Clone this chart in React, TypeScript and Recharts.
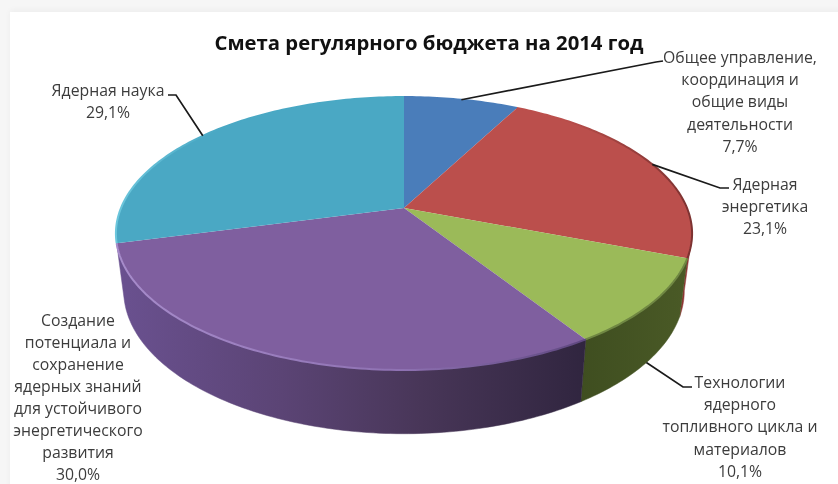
import { PieChart, Pie } from 'recharts';

const categories = [
  'Общее управление, координация и общие виды деятельности',
  'Ядерная энергетика',
  'Технологии ядерного топливного цикла и материалов',
  'Создание потенциала и сохранение ядерных знаний для устойчивого энергетического развития',
  'Ядерная наука',
];
const values = [7.7, 23.1, 10.1, 30.0, 29.1];

const labelLines = [
  ['Общее управление,', 'координация и', 'общие виды', 'деятельности'],
  ['Ядерная', 'энергетика'],
  ['Технологии', 'ядерного', 'топливного цикла и', 'материалов'],
  ['Создание', 'потенциала и', 'сохранение', 'ядерных знаний', 'для устойчивого', 'энергетического', 'развития'],
  ['Ядерная наука'],
];

// label block position (centre x, middle of first line) and leader end
const labelPos = [
  { x: 740, y: 57, step: 22.4, elbow: [656, 62], end: [663, 61], wall: false },
  { x: 765, y: 184, step: 22.4, elbow: [720, 188], end: [729, 188], wall: false },
  { x: 740, y: 382, step: 22.4, elbow: [683, 387], end: [692, 387], wall: true },
  { x: 78, y: 320, step: 22, elbow: null, end: null, wall: false },
  { x: 108, y: 90, step: 22.4, elbow: [176, 95], end: [168, 95], wall: false },
];

const topColors = ['#4a7dba', '#bb4f4c', '#9bba59', '#7f5f9f', '#4aa8c4'];
const rimColors = ['#4a7dba', 'url(#rimRed)', '#6f8743', 'url(#rimPurple)', 'url(#rimCyan)'];
const wallColors = ['#2c4b70', '#8e3533', 'url(#wallGreen)', 'url(#wallPurple)', '#2f7f99'];

const data = categories.map((name, i) => ({ name, value: values[i] }));

// perspective of the tilted disc
const K = 0.187;
const TOP_RY = 0.4654;
const BOTTOM_RX = 0.973;
const BOTTOM_RY = 0.4876;
const DEPTH = 56;
const WALL_FROM = 100.8;
const WALL_TO = 259.2;
const MIN_WALL = 5; // degrees, thinner slivers are hidden by the neighbour in the original

const project = (deg: number, cx: number, cy: number, rx: number, ry: number) => {
  const t = (deg * Math.PI) / 180;
  const d = 1 + K * Math.cos(t);
  return [cx + (rx * Math.sin(t)) / d, cy - (ry * Math.cos(t)) / d];
};

const arc = (from: number, to: number, cx: number, cy: number, rx: number, ry: number) => {
  const pts = [];
  const n = Math.max(2, Math.ceil(Math.abs(to - from)));
  for (let i = 0; i <= n; i++) {
    pts.push(project(from + ((to - from) * i) / n, cx, cy, rx, ry));
  }
  return pts;
};

const toPath = (pts: number[][], close = true) =>
  pts.map((p, i) => `${i ? 'L' : 'M'}${p[0].toFixed(2)} ${p[1].toFixed(2)}`).join('') + (close ? 'Z' : '');

const Slice3D = (props: any) => {
  const { cx, cy, outerRadius, startAngle, endAngle, index } = props;
  const from = 90 - startAngle;
  const to = 90 - endAngle;
  const ry = outerRadius * TOP_RY;
  const top = arc(from, to, cx, cy, outerRadius, ry);
  const wFrom = Math.max(from, WALL_FROM);
  const wTo = Math.min(to, WALL_TO);
  let wall = null;
  if (wTo - wFrom > MIN_WALL) {
    const upper = arc(wFrom, wTo, cx, cy, outerRadius, ry);
    const lower = arc(wFrom, wTo, cx, cy + DEPTH, outerRadius * BOTTOM_RX, outerRadius * BOTTOM_RY);
    wall = <path d={toPath([...upper, ...lower.reverse()])} fill={wallColors[index]} stroke={wallColors[index]} strokeWidth={0.5} />;
  }
  return (
    <g>
      {wall}
      <path d={toPath([[cx, cy], ...top])} fill={topColors[index]} />
      <path d={toPath(top, false)} fill="none" stroke={rimColors[index]} strokeWidth={2} filter="url(#soft)" />
    </g>
  );
};

const renderLabel = (props: any) => {
  const { cx, cy, outerRadius, midAngle, index } = props;
  const pos = labelPos[index];
  const deg = 90 - midAngle;
  const start = pos.wall
    ? project(deg, cx, cy + DEPTH, outerRadius * BOTTOM_RX, outerRadius * BOTTOM_RY)
    : project(deg, cx, cy, outerRadius, outerRadius * TOP_RY);
  const lines = [...labelLines[index], `${values[index].toFixed(1).replace('.', ',')}%`];
  return (
    <g key={index}>
      {pos.elbow && (
        <path d={toPath([start, pos.elbow, pos.end], false)} fill="none" stroke="#1a1a1a" strokeWidth={1.7} />
      )}
      <text textAnchor="middle" fontFamily="'Open Sans', sans-serif" fontSize={15.8} fill="#3c3c3c">
        {lines.map((line, i) => (
          <tspan key={i} x={pos.x} y={pos.y + i * pos.step} dy="0.36em">
            {line}
          </tspan>
        ))}
      </text>
    </g>
  );
};

export default function App() {
  return (
    <div style={{ position: 'fixed', left: 0, top: 0, width: 838, height: 484, background: '#f6f6f6', overflow: 'hidden' }}>
      <div style={{ position: 'absolute', left: 10, top: 12, width: 840, height: 490, background: '#fff', boxShadow: '0 -2px 6px rgba(0,0,0,0.04)' }} />
      <div style={{ position: 'absolute', left: 0, top: 0, filter: 'blur(0.35px)' }}>
        <PieChart width={838} height={484} margin={{ top: 0, right: 0, bottom: 0, left: 0 }}>
          <defs>
            <filter id="soft" filterUnits="userSpaceOnUse" x="0" y="0" width="838" height="484">
              <feGaussianBlur stdDeviation="0.7" />
            </filter>
            <linearGradient id="wallPurple" gradientUnits="userSpaceOnUse" x1="116" y1="0" x2="586" y2="0">
              <stop offset="0" stopColor="#6a5190" />
              <stop offset="0.35" stopColor="#5b4475" />
              <stop offset="0.65" stopColor="#483658" />
              <stop offset="1" stopColor="#30253f" />
            </linearGradient>
            <linearGradient id="wallGreen" gradientUnits="userSpaceOnUse" x1="582" y1="0" x2="690" y2="0">
              <stop offset="0" stopColor="#3f4e20" />
              <stop offset="1" stopColor="#4a5a26" />
            </linearGradient>
            <linearGradient id="rimPurple" gradientUnits="userSpaceOnUse" x1="116" y1="0" x2="586" y2="0">
              <stop offset="0" stopColor="#a78ccb" />
              <stop offset="0.6" stopColor="#8f72b3" />
              <stop offset="1" stopColor="#5f4880" />
            </linearGradient>
            <linearGradient id="rimRed" gradientUnits="userSpaceOnUse" x1="560" y1="0" x2="690" y2="0">
              <stop offset="0" stopColor="#bb4f4c" />
              <stop offset="1" stopColor="#7d3230" />
            </linearGradient>
            <linearGradient id="rimCyan" gradientUnits="userSpaceOnUse" x1="116" y1="0" x2="220" y2="0">
              <stop offset="0" stopColor="#6cc6dc" />
              <stop offset="1" stopColor="#4aa8c4" />
            </linearGradient>
          </defs>
          <text x={429} y={50} textAnchor="middle" fontFamily="'Open Sans', sans-serif" fontWeight={700} fontSize={20.3} fill="#111">
            Смета регулярного бюджета на 2014 год
          </text>
          <Pie
            data={data}
            dataKey="value"
            nameKey="name"
            cx={404}
            cy={208}
            innerRadius={0}
            outerRadius={283}
            startAngle={90}
            endAngle={-270}
            stroke="none"
            shape={Slice3D}
            label={renderLabel}
            labelLine={false}
            isAnimationActive={false}
          />
        </PieChart>
      </div>
    </div>
  );
}
